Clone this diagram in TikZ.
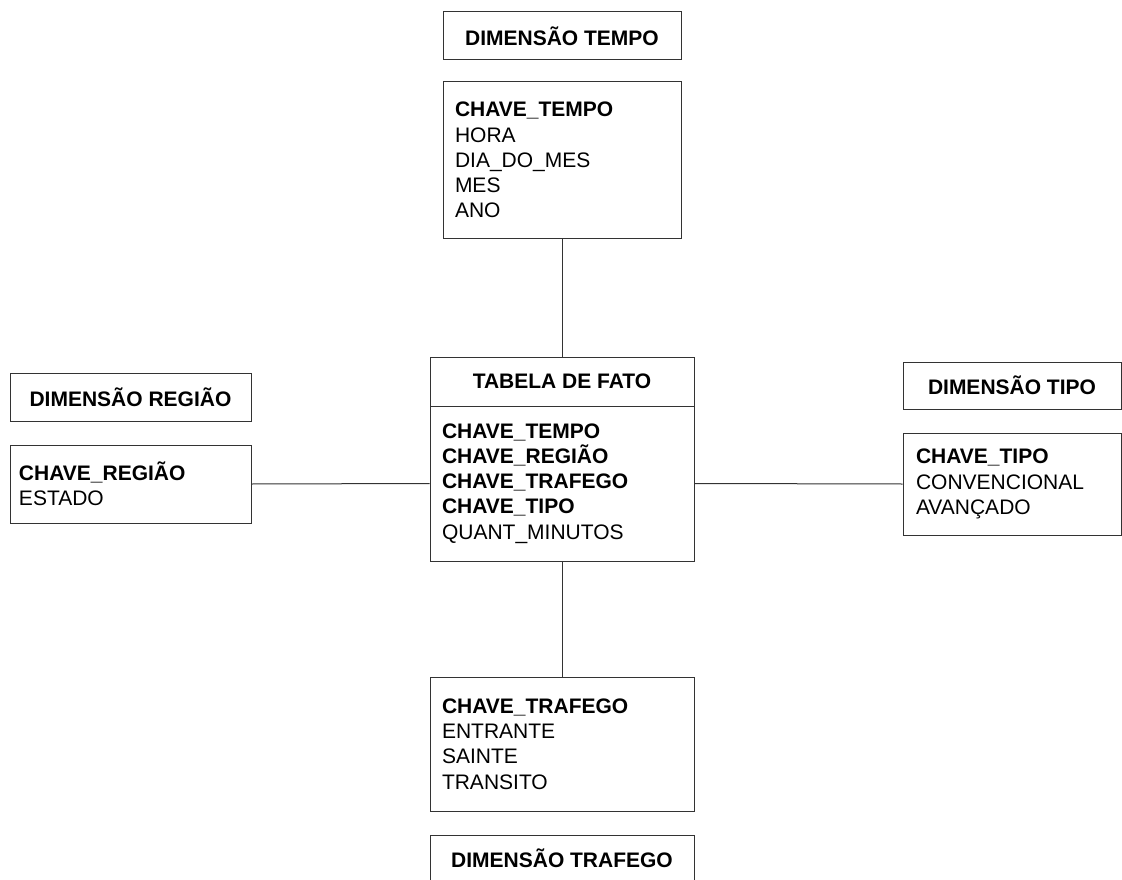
\documentclass[tikz,border=0pt]{standalone}
\usepackage{fontspec}
\setmainfont{Liberation Sans}
\begin{document}
\begin{tikzpicture}[x=1pt,y=-1pt,
  every node/.style={font=\fontsize{21}{25.2}\selectfont},
  box/.style={draw=black!80, line width=1pt, rectangle, inner sep=0pt},
  titlebox/.style={box, font=\fontsize{21}{25.2}\selectfont\bfseries},
  listbox/.style={box, align=left, inner ysep=0pt},
  link/.style={draw=black!80, line width=1pt}]
\useasboundingbox (0,0) rectangle (1122,880);
\fill[white] (0,0) rectangle (1122,880);

% Dimensao Tempo
\node[titlebox, minimum width=238pt, minimum height=48pt] (dimtempo) at (562,36) {DIMENSÃO TEMPO};
\node[listbox, minimum height=156pt, text width=214pt, inner xsep=12pt] (tempo) at (562,160)
  {\textbf{CHAVE\_TEMPO}\\HORA\\DIA\_DO\_MES\\MES\\ANO};

% Dimensao Regiao
\node[titlebox, minimum width=241pt, minimum height=48pt] (dimregiao) at (130.5,397) {DIMENSÃO REGIÃO};
\node[listbox, minimum height=78pt, text width=223pt, inner xsep=9pt] (regiao) at (130.5,484)
  {\textbf{CHAVE\_REGIÃO}\\ESTADO};

% Tabela de fato
\node[titlebox, minimum width=264pt, minimum height=49pt] (facttitle) at (562,381.5) {TABELA DE FATO};
\node[listbox, minimum height=155pt, text width=240pt, inner xsep=12pt] (factbody) at (562,483.5)
  {\textbf{CHAVE\_TEMPO}\\\textbf{CHAVE\_REGIÃO}\\\textbf{CHAVE\_TRAFEGO}\\\textbf{CHAVE\_TIPO}\\QUANT\_MINUTOS};

% Dimensao Tipo
\node[titlebox, minimum width=218pt, minimum height=47pt] (dimtipo) at (1012,385.5) {DIMENSÃO TIPO};
\node[listbox, minimum height=102pt, text width=192pt, inner xsep=13pt] (tipo) at (1012,484)
  {\textbf{CHAVE\_TIPO}\\CONVENCIONAL\\AVANÇADO};

% Dimensao Trafego
\node[listbox, minimum height=134pt, text width=240pt, inner xsep=12pt] (trafego) at (562,744)
  {\textbf{CHAVE\_TRAFEGO}\\ENTRANTE\\SAINTE\\TRANSITO};
\node[titlebox, minimum width=264pt, minimum height=46pt] (dimtrafego) at (562,858) {DIMENSÃO TRAFEGO};

% Connectors
\draw[link] (tempo.south) -- (facttitle.north);
\draw[link] (regiao.east) -- (factbody.west);
\draw[link] (factbody.east) -- (tipo.west);
\draw[link] (factbody.south) -- (trafego.north);
\end{tikzpicture}
\end{document}
